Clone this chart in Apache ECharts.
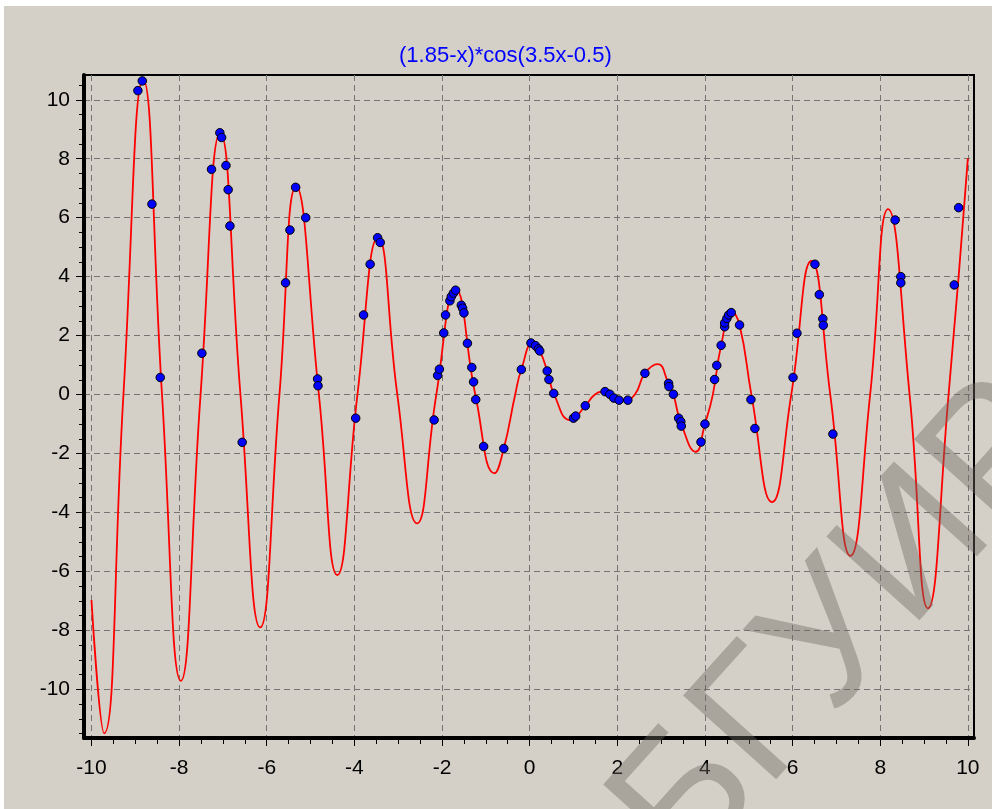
<!DOCTYPE html>
<html>
<head>
<meta charset="utf-8">
<script src="https://cdn.jsdelivr.net/npm/echarts@6/dist/echarts.min.js"></script>
<style>
  html, body { margin: 0; padding: 0; background: #ffffff; }
  #wrap { position: relative; width: 992px; height: 809px; overflow: hidden; }
  #chart { position: absolute; left: 0; top: 0; width: 992px; height: 809px; }
  .edge { position: absolute; background: #ffffff; }
</style>
</head>
<body>
<div id="wrap">
  <div id="chart"></div>
  <div class="edge" style="left:0;top:0;width:992px;height:6px"></div>
  <div class="edge" style="left:0;top:0;width:4px;height:809px"></div>
</div>
<script>
// Chart text
const titleText = '(1.85-x)*cos(3.5x-0.5)';
const watermarkText = 'БГУИР';

// Axis tick labels
const xTicks = [-10, -8, -6, -4, -2, 0, 2, 4, 6, 8, 10];
const yTicks = [-10, -8, -6, -4, -2, 0, 2, 4, 6, 8, 10];

// Red curve: peaks, troughs, zero crossings and a few points in between
const curveX = [-10.00, -9.71, -9.27, -8.82, -8.39, -7.96, -7.51, -7.06, -6.60, -6.15,
                -5.71, -5.33, -4.81, -4.39, -3.93, -3.46, -3.02, -2.57, -2.13, -1.69,
                -1.24, -0.80, -0.59, -0.33, -0.19, 0.08, 0.23, 0.40, 0.56, 0.93,
                1.27, 1.49, 1.68, 1.85, 2.15, 2.40, 2.63, 2.92, 3.17, 3.28,
                3.45, 3.79, 4.00, 4.18, 4.37, 4.61, 4.79, 5.06, 5.53, 5.97,
                6.43, 6.86, 7.32, 7.77, 8.18, 8.67, 9.09, 9.56, 10.00];
const curveY = [-6.97, -11.49, 0, 10.68, 0, -9.71, 0, 8.88, 0, -7.90,
                0, 7.05, 0, -6.12, 0, 5.33, 0, -4.37, 0, 3.56,
                0, -2.67, -1.83, 0, 0.85, 1.76, 1.48, 0.80, 0, -0.87,
                -0.38, 0, 0.10, 0, -0.21, 0, 0.72, 1.03, 0.38, 0,
                -0.95, -1.94, -1.00, 0, 1.67, 2.81, 2.36, 0, -3.65, 0,
                4.53, 0, -5.47, 0, 6.29, 0, -7.25, 0, 8.01];

// Blue sample points
const pointX = [-8.84, -8.94, -8.62, -8.43, -7.07, -7.03, -7.26, -6.93, -6.88, -6.84,
                -7.48, -6.56, -5.34, -5.47, -5.57, -5.11, -4.84, -4.83, -3.97, -3.79,
                -3.64, -3.47, -3.41, -2.18, -2.10, -2.06, -1.96, -1.92, -1.82, -1.79,
                -1.74, -1.69, -1.56, -1.53, -1.50, -1.42, -1.32, -1.28, -1.23, -1.05,
                -0.59, -0.19, 0.03, 0.13, 0.20, 0.23, 0.40, 0.44, 0.55, 1.00,
                1.05, 1.27, 1.72, 1.83, 1.92, 2.04, 2.24, 2.63, 3.17, 3.18,
                3.28, 3.40, 3.45, 3.46, 3.91, 4.00, 4.22, 4.27, 4.37, 4.45,
                4.45, 4.50, 4.54, 4.60, 4.79, 5.05, 5.14, 6.01, 6.10, 6.51,
                6.61, 6.69, 6.70, 6.92, 8.34, 8.47, 8.47, 9.69, 9.79];
const pointY = [10.64, 10.31, 6.46, 0.58, 8.88, 8.72, 7.64, 7.77, 6.95, 5.72,
                1.40, -1.62, 7.03, 5.58, 3.79, 6.00, 0.53, 0.30, -0.80, 2.70,
                4.42, 5.32, 5.16, -0.86, 0.65, 0.86, 2.09, 2.70, 3.18, 3.32,
                3.44, 3.54, 3.03, 2.93, 2.77, 1.74, 0.92, 0.43, -0.17, -1.76,
                -1.83, 0.85, 1.75, 1.66, 1.55, 1.48, 0.80, 0.51, 0.04, -0.80,
                -0.73, -0.38, 0.10, 0.01, -0.12, -0.19, -0.19, 0.72, 0.38, 0.27,
                0.01, -0.80, -0.92, -1.07, -1.61, -1.00, 0.51, 0.99, 1.67, 2.30,
                2.43, 2.58, 2.70, 2.78, 2.36, -0.17, -1.15, 0.58, 2.08, 4.42,
                3.39, 2.57, 2.35, -1.34, 5.92, 4.00, 3.79, 3.72, 6.34];

// Visible axis extents (a little wider than the data)
const xRange = [-10.17, 10.14];
const yRange = [-11.65, 10.84];

// Minor tick positions every 0.5 inside each extent
function halfSteps(range) {
  const out = [];
  for (let v = Math.ceil(range[0] * 2) / 2; v <= range[1] + 1e-9; v += 0.5) out.push(v);
  return out;
}
const xMinor = halfSteps(xRange);
const yMinor = halfSteps(yRange);

const FONT = "'Liberation Sans', Arial, sans-serif";
const gridRect = { left: 84, right: 18, top: 75, bottom: 71 };

const chart = echarts.init(document.getElementById('chart'), null, { renderer: 'canvas' });

chart.setOption({
  backgroundColor: '#d4d0c8',
  animation: false,
  title: {
    text: titleText,
    left: 394,
    top: 40,
    textStyle: { color: '#0000ff', fontSize: 22, fontWeight: 'normal', fontFamily: FONT }
  },
  grid: [
    Object.assign({ show: true, borderColor: '#000', borderWidth: 2, backgroundColor: 'transparent' }, gridRect),
    Object.assign({ show: false }, gridRect)
  ],
  xAxis: [
    {
      type: 'value', gridIndex: 0, min: xRange[0], max: xRange[1], splitNumber: 10,
      position: 'bottom',
      axisLine: { show: true, onZero: false, lineStyle: { color: '#000', width: 4 } },
      axisTick: { show: true, length: 8, lineStyle: { color: '#000', width: 1 }, customValues: xTicks },
      axisLabel: { customValues: xTicks, color: '#000', fontSize: 21, fontFamily: FONT, margin: 20 },
      splitLine: { show: true, lineStyle: { color: '#747474', width: 1, type: [6, 4] } }
    },
    {
      type: 'value', gridIndex: 1, min: xRange[0], max: xRange[1],
      position: 'bottom',
      axisLine: { show: false, onZero: false },
      axisTick: { show: true, length: 6, lineStyle: { color: '#000', width: 1 }, customValues: xMinor },
      axisLabel: { show: false },
      splitLine: { show: false }
    }
  ],
  yAxis: [
    {
      type: 'value', gridIndex: 0, min: yRange[0], max: yRange[1], splitNumber: 11,
      position: 'left',
      axisLine: { show: true, onZero: false, lineStyle: { color: '#000', width: 4 } },
      axisTick: { show: true, length: 8, lineStyle: { color: '#000', width: 1 }, customValues: yTicks },
      axisLabel: { customValues: yTicks, color: '#000', fontSize: 21, fontFamily: FONT, margin: 14 },
      splitLine: { show: true, lineStyle: { color: '#747474', width: 1, type: [6, 4] } }
    },
    {
      type: 'value', gridIndex: 1, min: yRange[0], max: yRange[1],
      position: 'left',
      axisLine: { show: false, onZero: false },
      axisTick: { show: true, length: 5, lineStyle: { color: '#000', width: 1 }, customValues: yMinor },
      axisLabel: { show: false },
      splitLine: { show: false }
    }
  ],
  series: [
    {
      type: 'line',
      xAxisIndex: 0, yAxisIndex: 0,
      data: curveX.map((x, i) => [x, curveY[i]]),
      smooth: 0.5,
      showSymbol: false,
      lineStyle: { color: '#ff0000', width: 1.8 },
      z: 3
    },
    {
      type: 'scatter',
      xAxisIndex: 0, yAxisIndex: 0,
      data: pointX.map((x, i) => [x, pointY[i]]),
      symbol: 'circle',
      symbolSize: 8.5,
      itemStyle: { color: '#0000ff', borderColor: '#000', borderWidth: 1, opacity: 1 },
      z: 4
    }
  ],
  graphic: [
    {
      type: 'text',
      x: 845, y: 628,
      rotation: 48 * Math.PI / 180,
      z: 100,
      silent: true,
      style: {
        text: watermarkText,
        fontSize: 182,
        fontFamily: FONT,
        fill: 'rgba(110,105,95,0.42)',
        align: 'center',
        verticalAlign: 'middle'
      }
    }
  ]
});
</script>
</body>
</html>
